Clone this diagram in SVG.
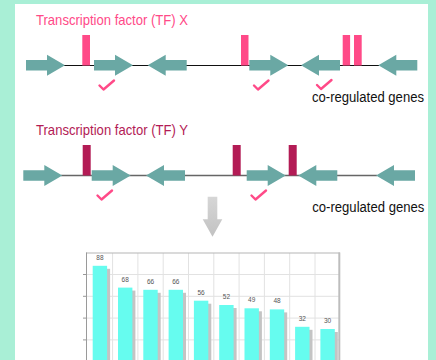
<svg xmlns="http://www.w3.org/2000/svg" width="436" height="360" viewBox="0 0 436 360">
<style>
.arr{fill:#6aa8a4}
.tfx{fill:#ff4a88}
.tfy{fill:#b31b55}
.chk{fill:none;stroke:#ff4a88;stroke-width:2.4;stroke-linecap:round;stroke-linejoin:round}
.title{font-family:"Liberation Sans",Arial,sans-serif;font-size:14.5px}
.lbl{font-family:"Liberation Sans",Arial,sans-serif;font-size:14px;fill:#111}
.val{font-family:"Liberation Sans",Arial,sans-serif;font-size:6.5px;fill:#555;text-anchor:middle}
.bar{fill:#66fcef}
.sh{fill:#c4c4c4}
.grid{stroke:#e2e2e2;stroke-width:1}
</style>
<defs>
<path id="ra" d="M0,-5.3 H21 V-10.5 L39,0 L21,10.5 V5.3 H0 Z"/>
<path id="ck" d="M0,0 L4,4 L14.5,-5"/>
<linearGradient id="ga" x1="0" y1="0" x2="0" y2="1">
<stop offset="0" stop-color="#d6d6d6"/>
<stop offset="1" stop-color="#c2c2c2"/>
</linearGradient>
</defs>
<rect width="436" height="360" fill="#a9efd6"/>
<rect x="15" y="4" width="413" height="356" fill="#ffffff"/>

<g id="connectors">
<line x1="64" y1="65.5" x2="379" y2="65.5" stroke="#111" stroke-width="1"/>
<line x1="61" y1="175.5" x2="377" y2="175.5" stroke="#666" stroke-width="1.5"/>
<polygon id="down-arrow" points="207.7,196.7 217.3,196.7 217.3,219.3 222.3,219.3 212.5,236.7 202.7,219.3 207.7,219.3" fill="url(#ga)"/>
</g>

<g id="tf-x">
<text class="title" x="36" y="25" fill="#ff4a88" textLength="152" lengthAdjust="spacingAndGlyphs">Transcription factor (TF) X</text>
<rect class="tfx" x="82.3" y="35" width="7.7" height="30.5"/>
<rect class="tfx" x="241" y="35" width="7.5" height="30.5"/>
<rect class="tfx" x="342.7" y="35" width="7.4" height="30.5"/>
<rect class="tfx" x="354" y="35" width="7.7" height="30.5"/>
<use href="#ra" class="arr" transform="translate(26,65.3)"/>
<use href="#ra" class="arr" transform="translate(94,65.3)"/>
<use href="#ra" class="arr" transform="translate(186.7,65.3) scale(-1,1)"/>
<use href="#ra" class="arr" transform="translate(249.3,65.3)"/>
<use href="#ra" class="arr" transform="translate(340,65.3) scale(-1,1)"/>
<use href="#ra" class="arr" transform="translate(417.3,65.3) scale(-1,1)"/>
<use href="#ck" class="chk" transform="translate(99.5,85.5)"/>
<use href="#ck" class="chk" transform="translate(254,85.5)"/>
<use href="#ck" class="chk" transform="translate(317,85)"/>
<text class="lbl" x="312" y="102" textLength="112" lengthAdjust="spacingAndGlyphs">co-regulated genes</text>
</g>

<g id="tf-y">
<text class="title" x="36" y="135.3" fill="#b31b55" textLength="152" lengthAdjust="spacingAndGlyphs">Transcription factor (TF) Y</text>
<rect class="tfy" x="82.7" y="145" width="8" height="30.5"/>
<rect class="tfy" x="232.7" y="145" width="8" height="30.5"/>
<rect class="tfy" x="288.7" y="145" width="8" height="30.5"/>
<use href="#ra" class="arr" transform="translate(23.3,175.5)"/>
<use href="#ra" class="arr" transform="translate(91.7,175.5)"/>
<use href="#ra" class="arr" transform="translate(185,175.5) scale(-1,1)"/>
<use href="#ra" class="arr" transform="translate(246.7,175.5)"/>
<use href="#ra" class="arr" transform="translate(337.3,175.5) scale(-1,1)"/>
<use href="#ra" class="arr" transform="translate(415,175.5) scale(-1,1)"/>
<use href="#ck" class="chk" transform="translate(97.5,195.5)"/>
<use href="#ck" class="chk" transform="translate(251.5,195.5)"/>
<text class="lbl" x="312.3" y="211.7" textLength="112" lengthAdjust="spacingAndGlyphs">co-regulated genes</text>
</g>

<g id="chart">
<g class="grid">
<line x1="112.6" y1="253" x2="112.6" y2="360"/>
<line x1="137.9" y1="253" x2="137.9" y2="360"/>
<line x1="163.2" y1="253" x2="163.2" y2="360"/>
<line x1="188.5" y1="253" x2="188.5" y2="360"/>
<line x1="213.8" y1="253" x2="213.8" y2="360"/>
<line x1="239.1" y1="253" x2="239.1" y2="360"/>
<line x1="264.4" y1="253" x2="264.4" y2="360"/>
<line x1="289.7" y1="253" x2="289.7" y2="360"/>
<line x1="315" y1="253" x2="315" y2="360"/>
<line x1="86" y1="274.5" x2="339" y2="274.5"/>
<line x1="86" y1="296.3" x2="339" y2="296.3"/>
<line x1="86" y1="318.1" x2="339" y2="318.1"/>
<line x1="86" y1="339.9" x2="339" y2="339.9"/>
</g>
<line x1="86" y1="253" x2="340" y2="253" stroke="#b5b5b5" stroke-width="1"/>
<line x1="339.3" y1="252.5" x2="339.3" y2="360" stroke="#bdbdbd" stroke-width="2"/>
<line x1="86.5" y1="252.5" x2="86.5" y2="360" stroke="#9a9a9a" stroke-width="1"/>
<g stroke="#999" stroke-width="1">
<line x1="83" y1="274.5" x2="86" y2="274.5"/>
<line x1="83" y1="296.3" x2="86" y2="296.3"/>
<line x1="83" y1="318.1" x2="86" y2="318.1"/>
<line x1="83" y1="339.9" x2="86" y2="339.9"/>
</g>
<g id="bars">
<rect class="sh" x="95.7" y="268.8" width="14.4" height="95"/>
<rect class="bar" x="92.7" y="265.8" width="14.4" height="95"/>
<rect class="sh" x="121" y="290.6" width="14.4" height="75"/>
<rect class="bar" x="118" y="287.6" width="14.4" height="75"/>
<rect class="sh" x="146.3" y="292.8" width="14.4" height="70"/>
<rect class="bar" x="143.3" y="289.8" width="14.4" height="75"/>
<rect class="sh" x="171.6" y="292.8" width="14.4" height="70"/>
<rect class="bar" x="168.6" y="289.8" width="14.4" height="75"/>
<rect class="sh" x="196.9" y="303.7" width="14.4" height="60"/>
<rect class="bar" x="193.9" y="300.7" width="14.4" height="65"/>
<rect class="sh" x="222.2" y="308" width="14.4" height="60"/>
<rect class="bar" x="219.2" y="305" width="14.4" height="60"/>
<rect class="sh" x="247.5" y="311.3" width="14.4" height="55"/>
<rect class="bar" x="244.5" y="308.3" width="14.4" height="55"/>
<rect class="sh" x="272.8" y="312.4" width="14.4" height="55"/>
<rect class="bar" x="269.8" y="309.4" width="14.4" height="55"/>
<rect class="sh" x="298.1" y="329.8" width="14.4" height="40"/>
<rect class="bar" x="295.1" y="326.8" width="14.4" height="40"/>
<rect class="sh" x="323.4" y="332" width="14.4" height="40"/>
<rect class="bar" x="320.4" y="329" width="14.4" height="40"/>
</g>
<g id="values">
<text class="val" x="99.9" y="259.8">88</text>
<text class="val" x="125.2" y="281.6">68</text>
<text class="val" x="150.5" y="283.8">66</text>
<text class="val" x="175.8" y="283.8">66</text>
<text class="val" x="201.1" y="294.7">56</text>
<text class="val" x="226.4" y="299">52</text>
<text class="val" x="251.7" y="302.3">49</text>
<text class="val" x="277" y="303.4">48</text>
<text class="val" x="302.3" y="320.8">32</text>
<text class="val" x="327.6" y="323">30</text>
</g>
</g>
</svg>
